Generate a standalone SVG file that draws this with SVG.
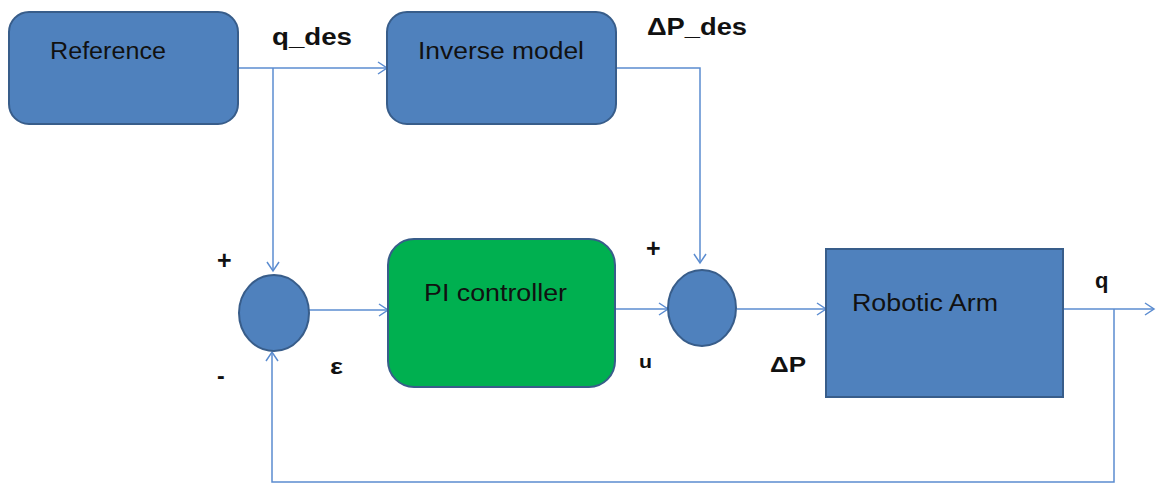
<svg xmlns="http://www.w3.org/2000/svg" width="1160" height="485" viewBox="0 0 1160 485">
<defs>
<style>
.box{fill:#4F81BD;stroke:#385D8A;stroke-width:2}
.green{fill:#00B050;stroke:#385D8A;stroke-width:2}
.wire{fill:none;stroke:#5B8CD0;stroke-width:1.5}
.t{font-family:"Liberation Sans",Arial,sans-serif;font-size:23px;fill:#111}
.b{font-family:"Liberation Sans",Arial,sans-serif;font-weight:bold;fill:#111}
</style>
<marker id="arr" markerWidth="12" markerHeight="14" refX="10" refY="7" orient="auto" markerUnits="userSpaceOnUse">
<path d="M1,1 L10,7 L1,13" fill="none" stroke="#5B8CD0" stroke-width="1.5"/>
</marker>
</defs>
<rect width="1160" height="485" fill="#fff"/>
<g id="connectors">
<path class="wire" d="M238,68 H387" marker-end="url(#arr)"/>
<path class="wire" d="M273,68 V271" marker-end="url(#arr)"/>
<path class="wire" d="M616,68 H700 V263" marker-end="url(#arr)"/>
<path class="wire" d="M309,310 H388" marker-end="url(#arr)"/>
<path class="wire" d="M615,309 H668" marker-end="url(#arr)"/>
<path class="wire" d="M737,309 H826" marker-end="url(#arr)"/>
<path class="wire" d="M1063,309 H1154" marker-end="url(#arr)"/>
<path class="wire" d="M1114,309 V482 H272 V352" marker-end="url(#arr)"/>
</g>
<g id="reference">
<rect class="box" x="9" y="12" width="229" height="112" rx="20"/>
<text class="t" x="50" y="59" textLength="116" lengthAdjust="spacingAndGlyphs">Reference</text>
</g>
<g id="inverse-model">
<rect class="box" x="387" y="12" width="229" height="112" rx="20"/>
<text class="t" x="418" y="59" textLength="166" lengthAdjust="spacingAndGlyphs">Inverse model</text>
</g>
<g id="sum1">
<ellipse class="box" cx="274" cy="313" rx="35" ry="38"/>
</g>
<g id="pi-controller">
<rect class="green" x="388" y="239" width="227" height="148" rx="26"/>
<text class="t" x="424" y="301" textLength="143" lengthAdjust="spacingAndGlyphs">PI controller</text>
</g>
<g id="sum2">
<ellipse class="box" cx="702" cy="308" rx="34" ry="38"/>
</g>
<g id="robotic-arm">
<rect class="box" x="826" y="249" width="237" height="148"/>
<text class="t" x="852" y="311" textLength="146" lengthAdjust="spacingAndGlyphs">Robotic Arm</text>
</g>
<g id="labels">
<text class="b" x="272" y="45" font-size="23" textLength="80" lengthAdjust="spacingAndGlyphs">q_des</text>
<text class="b" x="647" y="35" font-size="23" textLength="100" lengthAdjust="spacingAndGlyphs">ΔP_des</text>
<text class="b" x="217" y="269" font-size="25">+</text>
<text class="b" x="217" y="384" font-size="23">-</text>
<text class="b" x="330" y="374" font-size="22" textLength="13" lengthAdjust="spacingAndGlyphs">ε</text>
<text class="b" x="646" y="257" font-size="25">+</text>
<text class="b" x="639" y="368" font-size="19" textLength="13" lengthAdjust="spacingAndGlyphs">u</text>
<text class="b" x="770" y="372" font-size="22" textLength="36" lengthAdjust="spacingAndGlyphs">ΔP</text>
<text class="b" x="1095" y="288" font-size="22">q</text>
</g>
</svg>
